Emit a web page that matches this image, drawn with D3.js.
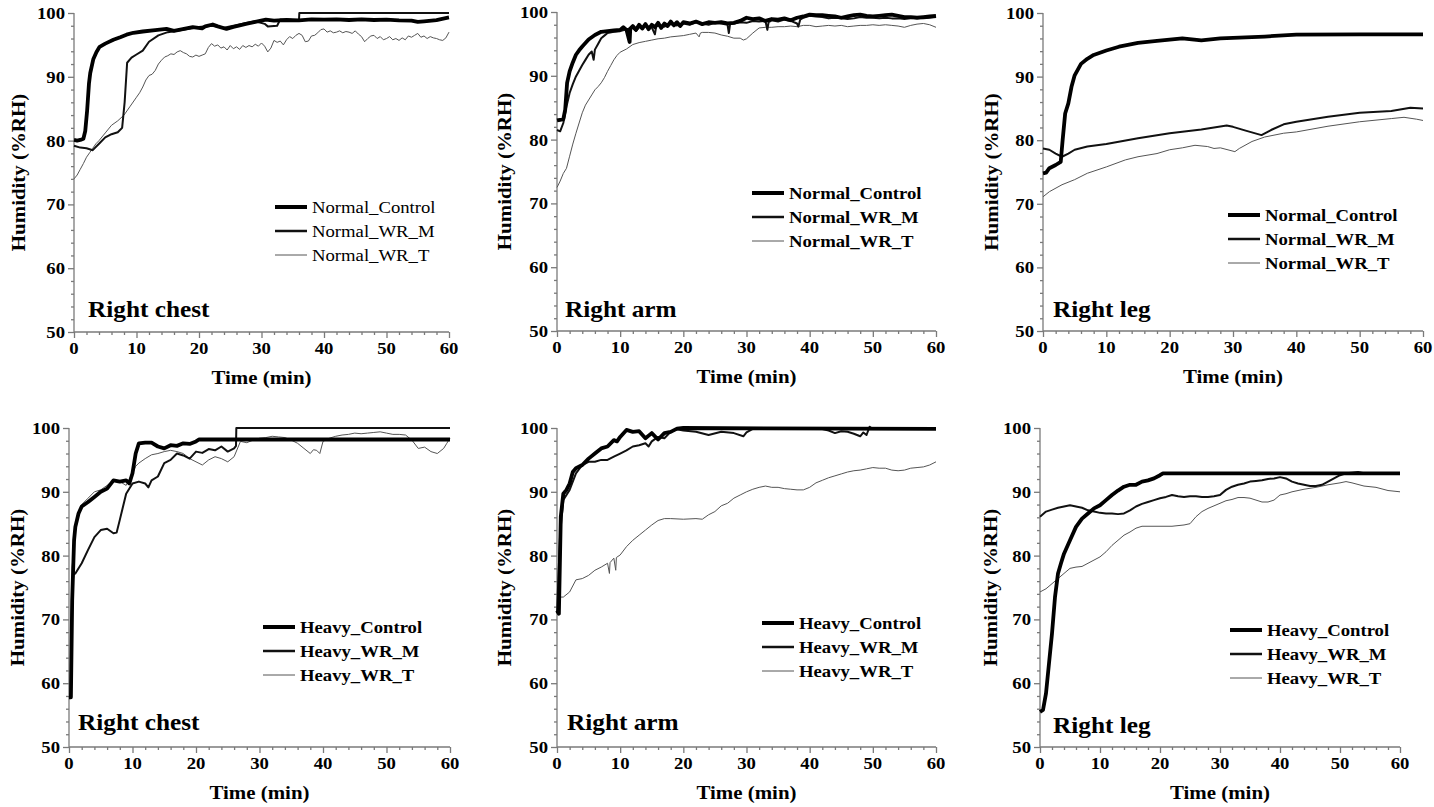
<!DOCTYPE html>
<html><head><meta charset="utf-8">
<script src="https://cdn.jsdelivr.net/npm/d3@7"></script>
<style>body{margin:0;background:#fff}svg{display:block}</style>
</head><body><svg width="1434" height="807"></svg>
<script>
const xTicks=[0,10,20,30,40,50,60];
const yTicks=[50,60,70,80,90,100];
const panelLabels=["Right chest","Right arm","Right leg","Right chest","Right arm","Right leg"];
const normalLegend=["Normal_Control","Normal_WR_M","Normal_WR_T"];
const heavyLegend=["Heavy_Control","Heavy_WR_M","Heavy_WR_T"];
const xTitle="Time (min)", yTitle="Humidity (%RH)";

// ---- Normal, Right chest ----
const normalChestControl=[[0,80.1],[0.5,80.0],[1,80.1],[1.5,80.3],[1.8,81.5],[2.1,84.7],[2.4,89],[2.6,90.6],[3.1,92.8],[3.6,93.9],[4.1,94.7],[5,95.2],[6.3,95.8],[7.4,96.2],[8.4,96.6],[9.5,96.9],[11,97.1],[13,97.3],[14.8,97.5],[16,97.2],[17,97.4],[19,97.8],[20.5,97.6],[21,97.9],[22.2,98.2],[23,97.9],[24.4,97.5],[25.5,97.8],[27.5,98.3],[29,98.6],[30.7,98.95],[32,98.8],[34,98.9],[36,98.85],[38,99.0],[40,98.95],[42,99.0],[44,98.9],[46,99.0],[48,98.9],[50,98.95],[52,98.85],[54,98.8],[55,98.6],[56,98.7],[58,98.9],[60,99.3]];
const normalChestWRM=[[0,79.2],[1,78.9],[2,78.8],[3,78.5],[4,79.5],[5,80.5],[6,81.0],[7,81.3],[7.7,82],[8.1,86],[8.5,92.2],[9.2,93.0],[10,93.5],[11,94.1],[12,95.5],[13.5,96.5],[15,97.0],[17,97.3],[20,97.8],[22,98.0],[24,97.7],[27,98.3],[29,98.7],[30.5,98.3],[31,97.9],[32.5,98.0],[33,99.0],[35,98.9],[36,98.9],[36.05,100],[60,100]];
const normalChestWRT=[[0,74],[0.5,74.6],[1,75.5],[1.5,76.4],[2,77.4],[2.5,78.1],[3,78.8],[3.5,79.5],[4,80],[5,81.2],[6,82.4],[7,83.1],[8,84],[9,85.4],[10,86.8],[10.5,87.5],[11,88.4],[11.5,89.5],[12,90.2],[12.5,90.4],[13,91],[13.5,92],[14,92.6],[14.5,93.1],[15,93.3],[15.5,93.6],[16,93.5],[16.5,93.9],[17,94.1],[17.5,93.8],[18,93.6],[18.5,93.2],[19,93.1],[19.5,93.4],[20,93.2],[20.5,93.4],[21,93.6],[21.5,94.6],[22,95.2],[22.5,94.8],[23,95.0],[23.5,94.5],[24,94.7],[24.5,94.2],[25,94.9],[25.5,94.4],[26,94.7],[26.5,94.3],[27,94.9],[27.5,94.6],[28,94.9],[28.5,94.7],[29,95.1],[29.5,94.8],[30,95.3],[30.5,94.8],[31,93.9],[31.5,94.5],[32,95.7],[32.5,95.4],[33,95.6],[33.5,95.0],[34,95.8],[34.5,96.3],[35,96.0],[35.5,96.5],[36,96.8],[36.5,96.5],[37,95.5],[37.5,95.6],[38,96.4],[38.5,96.5],[39,96.9],[39.5,97.4],[40,97.5],[40.5,97.0],[41,97.2],[41.5,96.9],[42,97.0],[42.5,97.2],[43,96.9],[43.5,97.1],[44,97.0],[44.5,96.8],[45,97.2],[45.5,96.7],[46,96.3],[46.5,95.5],[47,96.0],[47.5,96.4],[48,96.5],[48.5,96.0],[49,96.3],[49.5,95.8],[50,96.0],[50.5,96.3],[51,95.8],[51.5,96.0],[52,95.7],[52.5,96.1],[53,95.8],[53.5,96.4],[54,96.2],[54.5,96.5],[55,96.8],[55.5,96.2],[56,96.4],[56.5,96.0],[57,96.3],[57.5,96.1],[58,96.0],[58.5,95.8],[59,95.7],[59.5,96.1],[60,97]];

// ---- Normal, Right arm ----
const normalArmControl=[[0,83],[0.5,83.1],[1,83.2],[1.3,84.7],[1.6,88.9],[2,90.7],[2.5,92.1],[3,93.3],[3.5,94],[4,94.6],[5,95.7],[6,96.4],[7,96.9],[8,97.0],[9,97.1],[10,97.2],[10.5,97.6],[11,97.2],[11.5,95.3],[11.6,97.4],[12,97.8],[12.5,97.2],[13,98],[13.5,97.4],[14,98.1],[14.5,97.3],[15,98],[15.5,97.6],[16,98.3],[16.5,97.5],[17,98.2],[17.5,97.8],[18,98.5],[18.5,97.9],[19,98.4],[19.5,97.8],[20,98.4],[21,98.2],[22,98.5],[23,98.1],[24,98.4],[25,98.3],[26,98.4],[27,98.2],[28,98.3],[29,98.6],[30,99.1],[31,98.9],[32,99.0],[33,98.6],[34,98.9],[35,98.8],[36,99.0],[37,98.7],[38,99.1],[39,99.3],[40,99.6],[41,99.5],[42,99.5],[43,99.4],[44,99.3],[45,99.1],[46,99.3],[47,99.5],[48,99.6],[49,99.4],[50,99.3],[51,99.4],[52,99.5],[53,99.6],[54,99.4],[55,99.2],[56,99.2],[57,99.1],[58,99.2],[59,99.3],[60,99.4]];
const normalArmWRM=[[0,81.5],[0.5,81.3],[1,82.6],[1.5,85.2],[2,87.3],[2.5,88.7],[3,89.9],[3.5,90.8],[4,91.7],[4.5,92.5],[5,93.3],[5.5,93.8],[5.8,92.5],[6,94.1],[6.5,95],[7,95.9],[7.5,96.3],[8,96.7],[9,96.9],[10,97.0],[11,97.3],[12,97.5],[12.5,97.0],[13,97.6],[14,97.8],[15,97.6],[15.5,96.5],[15.7,97.7],[16,97.9],[17,97.7],[18,98.1],[19,97.9],[20,98.2],[21,98.0],[22,98.4],[23,98.2],[24,98.0],[25,98.3],[26,98.2],[27,98.0],[27.2,96.7],[27.4,98.1],[28,98.2],[29,98.4],[30,98.3],[31,98.6],[32,98.5],[33,98.6],[33.3,97.2],[33.5,98.4],[34,98.7],[35,98.5],[36,98.8],[37,98.6],[38,98.2],[38.2,97.7],[38.5,98.8],[39,99.1],[40,99.4],[41,99.3],[42,99.2],[43,99.0],[44,99.1],[45,99.0],[46,98.9],[47,99.0],[48,99.2],[49,99.1],[50,99.1],[51,99.0],[52,99.1],[53,99.0],[54,99.0],[55,98.9],[56,99.0],[57,99.1],[58,99.0],[59,99.1],[60,99.2]];
const normalArmWRT=[[0,72.5],[0.5,73.5],[1,74.7],[1.5,75.5],[2,77.4],[2.5,79.3],[3,81],[3.5,82.6],[4,84.2],[4.5,85.4],[5,86.2],[5.5,87],[6,87.8],[6.5,88.3],[7,88.9],[7.5,89.7],[8,90.7],[8.5,91.6],[9,92.5],[9.5,93.2],[10,93.7],[11,94.2],[12,94.9],[13,95.2],[14,95.4],[15,95.6],[16,95.8],[17,95.9],[18,96.1],[19,96.2],[20,96.3],[21,96.5],[22,96.7],[22.5,96.1],[22.7,96.7],[23,96.8],[24,96.8],[25,96.7],[26,96.4],[27,96.2],[28,95.9],[29,95.9],[29.5,95.6],[30,95.8],[31,96.7],[32,97.5],[33,97.6],[34,97.6],[35,97.7],[36,97.7],[37,97.8],[38,97.7],[39,97.9],[40,97.9],[41,97.7],[42,97.8],[43,97.9],[44,97.8],[45,97.9],[46,97.7],[47,97.8],[48,97.9],[49,97.9],[50,98.0],[51,97.9],[52,98.0],[53,97.9],[54,97.8],[55,97.6],[56,97.9],[57,98.1],[58,98.2],[59,98.0],[60,97.6]];

// ---- Normal, Right leg ----
const normalLegControl=[[0,74.8],[0.5,74.9],[1,75.6],[2,76.1],[2.8,76.6],[3.1,80],[3.5,84.2],[4,85.8],[4.5,88.4],[5,90.2],[6,92],[7,92.8],[8,93.4],[10,94.1],[12,94.7],[15,95.3],[18,95.6],[20,95.8],[22,96],[25,95.7],[28,96],[30,96.1],[35,96.3],[40,96.6],[50,96.65],[60,96.65]];
const normalLegWRM=[[0,78.7],[1,78.5],[2,77.9],[3,77.4],[4,77.9],[5,78.5],[7,79],[10,79.4],[15,80.3],[20,81.1],[25,81.7],[29,82.3],[30,82.1],[32,81.5],[34.5,80.8],[36,81.6],[38,82.5],[40,82.9],[45,83.7],[50,84.3],[55,84.6],[58,85.1],[60,85]];
const normalLegWRT=[[0,71.1],[1,71.9],[3,73],[5,73.8],[7,74.8],[10,75.8],[13,76.9],[15,77.4],[18,77.9],[20,78.5],[22,78.8],[24,79.2],[26,79],[27,78.7],[28,78.8],[30.3,78.2],[31,78.7],[33,79.8],[35,80.5],[38,81.1],[40,81.3],[45,82.2],[50,82.9],[55,83.4],[57,83.6],[59,83.3],[60,83.1]];

// ---- Heavy, Right chest ----
const heavyChestControl=[[0,57.8],[0.3,57.8],[0.5,73],[0.8,82.4],[1,84.5],[1.5,86.6],[2,87.7],[3,88.4],[4,89.2],[5,90],[6,90.5],[7,91.8],[8,91.6],[9,91.8],[9.5,91.3],[10,92.9],[10.5,96],[11,97.6],[12,97.7],[13,97.7],[14,97.1],[15,96.8],[16,97.3],[17,97.2],[18,97.6],[19,97.5],[20,97.9],[20.5,98.2],[60,98.2]];
const heavyChestWRM=[[0,57.8],[0.3,58],[0.5,75],[0.7,77],[1,77.2],[2,78.8],[3,80.9],[4,82.9],[5,84],[6,84.2],[7,83.5],[7.5,83.6],[8,85.6],[9,89.7],[10,91.3],[11,91.6],[12,91.3],[12.5,90.7],[13,91.8],[14,92.4],[15,94.5],[16,95],[17,96],[18,95.7],[19,95.2],[20,96.3],[21,96.1],[22,96.7],[23,96.5],[24,97.1],[25,96.3],[26,96.8],[26.3,97.2],[26.35,100],[60,100]];
const heavyChestWRT=[[0,57.8],[0.3,58.5],[0.5,78.2],[1,84.5],[2,88],[3,89],[4,90],[5,90.3],[6,91],[7,91.8],[8,91.6],[9,91],[10,92.9],[10.5,94],[11,94.5],[12,95.2],[13,95.8],[14,96],[15,96.3],[16,96.5],[17,96.3],[18,96],[19,95.2],[20,94.7],[21,94.2],[22,95],[23,95.5],[24,95.2],[25,94.7],[26,95.5],[27,97.9],[28,97.7],[29,98.1],[30,98.4],[31,98.5],[32,98.7],[33,98.6],[34,98.5],[35,98.1],[36,97.6],[37,96.8],[38,96],[38.5,96.6],[39,96.5],[39.5,96],[40,97.9],[41,98.4],[42,98.7],[43,98.9],[44,99],[45,99.2],[46,99.1],[47,99.2],[48,99.3],[49,99.4],[50,99.2],[51,99],[52,99],[53,98.9],[54,98.1],[55,96.8],[56,97],[57,96.3],[58,96],[59,96.8],[59.5,97.6],[60,98.4]];

// ---- Heavy, Right arm ----
const heavyArmControl=[[0,71.4],[0.3,70.9],[0.6,86.1],[1,89.7],[1.5,90.3],[2,91.3],[2.5,93.1],[3,93.7],[4,94.2],[5,95.2],[6,96],[7,96.8],[8,97.1],[9,98.1],[9.5,97.9],[10,98.6],[11,99.7],[12,99.4],[13,99.5],[14,98.4],[15,99.2],[16,98.2],[17,99.2],[18,99.4],[19,99.9],[20,100],[60,99.85]];
const heavyArmWRM=[[0,71],[0.5,83.5],[1,88.7],[2,90.3],[3,92.9],[4,94.2],[5,94.7],[6,94.7],[7,95],[8,95],[9,95.5],[10,96],[11,96.5],[12,97.1],[13,97.3],[14,97.6],[14.5,97.1],[15,97.9],[16,98.6],[17,98.4],[18,99.4],[19,99.8],[20,99.6],[22,99.4],[24,98.9],[26,99.4],[28,99.2],[29.5,98.7],[30,99.3],[31,99.85],[42,99.85],[43,99.6],[44,99.2],[45,99.5],[46,99.4],[47,99.1],[48,98.7],[48.5,99.3],[49,98.9],[49.5,100.2],[50,99.85],[60,99.85]];
const heavyArmWRT=[[0,71],[0.3,73],[0.5,73.5],[1,73.5],[2,74.3],[3,76.2],[4,76.4],[5,76.9],[6,77.7],[7,78.2],[8,78.8],[8.3,77.2],[8.4,78.9],[9,79.6],[9.3,77.7],[9.4,79.7],[10,80.1],[11,81.4],[12,82.4],[13,83.2],[14,84],[15,84.8],[16,85.5],[17,85.8],[18,85.8],[20,85.7],[22,85.8],[23,85.7],[24,86.4],[25,86.9],[26,87.8],[27,88.2],[28,89],[29,89.5],[30,90],[31,90.4],[32,90.7],[33,90.9],[34,90.7],[35,90.7],[36,90.5],[37,90.4],[38,90.3],[39,90.3],[40,90.7],[41,91.4],[42,91.8],[43,92.2],[44,92.5],[45,92.8],[46,93.1],[47,93.3],[48,93.4],[49,93.6],[50,93.8],[51,93.7],[52,93.7],[53,93.4],[54,93.3],[55,93.4],[56,93.7],[57,93.8],[58,93.9],[59,94.2],[60,94.7]];

// ---- Heavy, Right leg ----
const heavyLegControl=[[0,55.5],[0.5,55.8],[1,58.4],[1.5,63.1],[2,67.8],[2.5,73.5],[3,77.2],[3.5,78.8],[4,80.3],[5,82.4],[6,84.5],[7,85.8],[8,86.6],[9,87.4],[10,87.9],[11,88.7],[12,89.5],[13,90.2],[14,90.8],[15,91.1],[16,91.1],[17,91.6],[18,91.8],[19,92.1],[20,92.6],[20.5,92.9],[60,92.9]];
const heavyLegWRM=[[0,86.1],[1,86.9],[2,87.2],[3,87.5],[4,87.7],[5,87.9],[6,87.7],[7,87.5],[8,87.1],[9,86.9],[10,86.7],[11,86.6],[12,86.6],[13,86.5],[14,86.6],[15,87.1],[16,87.7],[17,88.1],[18,88.4],[19,88.7],[20,89],[21,89.2],[22,89.5],[23,89.3],[24,89.2],[25,89.3],[26,89.3],[27,89.2],[28,89.2],[29,89.3],[30,89.5],[31,90.3],[32,90.8],[33,91.1],[34,91.3],[35,91.6],[36,91.7],[37,91.8],[38,92],[39,92.1],[40,92.3],[41,92.1],[42,91.6],[43,91.3],[44,91.1],[45,90.9],[46,90.9],[47,91.1],[48,91.6],[49,92.1],[50,92.6],[51,92.9],[52,93],[53,93.1],[54,92.9],[55,92.8],[58,92.8],[60,92.8]];
const heavyLegWRT=[[0,74.3],[1,74.8],[2,75.6],[3,76.4],[4,77.2],[5,78],[6,78.2],[7,78.3],[8,78.8],[9,79.3],[10,79.8],[11,80.6],[12,81.6],[13,82.4],[14,83.2],[15,83.7],[16,84.3],[17,84.6],[18,84.6],[20,84.6],[22,84.6],[24,84.8],[25,85],[26,86.1],[27,86.9],[28,87.4],[29,87.8],[30,88.2],[31,88.6],[32,88.8],[33,89.1],[34,89.1],[35,89],[36,88.7],[37,88.4],[38,88.4],[39,88.7],[40,89.5],[41,89.7],[42,90],[44,90.4],[46,90.7],[48,91.1],[50,91.4],[51,91.6],[52,91.4],[54,90.9],[56,90.7],[58,90.2],[60,90]];

// ---- layout (positions only) ----
const panels=[
 {x0:74,x1:449,yt:13,yb:332,series:[normalChestControl,normalChestWRM,normalChestWRT],legend:normalLegend,legBold:false,legX:275,legY:207,titleX:18,labelX:88,labelY:317},
 {x0:557,x1:936,yt:12,yb:331,series:[normalArmControl,normalArmWRM,normalArmWRT],legend:normalLegend,legBold:true,legX:752,legY:193,titleX:504,labelX:565,labelY:317},
 {x0:1043,x1:1423,yt:13,yb:331,series:[normalLegControl,normalLegWRM,normalLegWRT],legend:normalLegend,legBold:true,legX:1228,legY:215,titleX:991,labelX:1053,labelY:317},
 {x0:69,x1:450,yt:428,yb:747,series:[heavyChestControl,heavyChestWRM,heavyChestWRT],legend:heavyLegend,legBold:true,legX:263,legY:627,titleX:17,labelX:78,labelY:730},
 {x0:557,x1:936,yt:428,yb:747,series:[heavyArmControl,heavyArmWRM,heavyArmWRT],legend:heavyLegend,legBold:true,legX:762,legY:623,titleX:504,labelX:567,labelY:730},
 {x0:1040,x1:1400,yt:428,yb:747,series:[heavyLegControl,heavyLegWRM,heavyLegWRT],legend:heavyLegend,legBold:true,legX:1230,legY:630,titleX:990,labelX:1053,labelY:733}
];
const styles=[{w:3.8,c:"#000"},{w:2,c:"#111"},{w:1,c:"#555"}];
const legW=[4,2.5,1];
const SX=1.1;
const FONT="'Liberation Serif', 'Times New Roman', Times, 'DejaVu Serif', serif";
const svg=d3.select("svg");
const axisColor="#7a7a7a";

function txt(g,x,y,s,size,opts={}){
  return g.append("text")
    .attr("transform",`translate(${x},${y})${opts.rot?" rotate(-90)":""} scale(${SX},1)`)
    .attr("font-family",FONT)
    .attr("font-size",size).attr("font-weight",opts.bold===false?"normal":"bold")
    .attr("text-anchor",opts.anchor||"start")
    .attr("fill","#000").text(s);
}

panels.forEach((p,i)=>{
  const g=svg.append("g");
  const x=d3.scaleLinear().domain([0,60]).range([p.x0,p.x1]);
  const y=d3.scaleLinear().domain([50,100]).range([p.yb,p.yt]);
  const minorX=d3.range(0,61,2).filter(v=>v%10!==0);
  const minorY=d3.range(50,101,2).filter(v=>v%10!==0);
  const ax=g.append("g").attr("transform",`translate(0,${p.yb})`)
    .call(d3.axisBottom(x).tickValues(xTicks).tickSize(6).tickFormat(""));
  const axm=g.append("g").attr("transform",`translate(0,${p.yb})`)
    .call(d3.axisBottom(x).tickValues(minorX).tickSize(3).tickFormat(""));
  const ay=g.append("g").attr("transform",`translate(${p.x0},0)`)
    .call(d3.axisLeft(y).tickValues(yTicks).tickSize(6).tickFormat(""));
  const aym=g.append("g").attr("transform",`translate(${p.x0},0)`)
    .call(d3.axisLeft(y).tickValues(minorY).tickSize(3).tickFormat(""));
  [ax,axm,ay,aym].forEach(a=>{a.selectAll("path,line").attr("stroke",axisColor).attr("stroke-width",1.3);});
  axm.select(".domain").remove(); aym.select(".domain").remove();
  ax.select(".domain").attr("d",`M${p.x0},0H${p.x1}`);
  ay.select(".domain").attr("d",`M0,${p.yb}V${p.yt}`);
  xTicks.forEach(v=>txt(g,x(v),p.yb+22,String(v),17,{anchor:"middle"}));
  yTicks.forEach(v=>txt(g,p.x0-9,y(v)+6,String(v),17,{anchor:"end"}));
  txt(g,(p.x0+p.x1)/2,p.yb+52,xTitle,19,{anchor:"middle"});
  txt(g,p.titleX+7,(p.yt+p.yb)/2,yTitle,19,{anchor:"middle",rot:true});
  txt(g,p.labelX,p.labelY,panelLabels[i],23);
  const line=d3.line().x(d=>x(d[0])).y(d=>y(d[1]));
  [2,1,0].forEach(k=>{
    g.append("path").datum(p.series[k]).attr("d",line).attr("fill","none")
      .attr("stroke",styles[k].c).attr("stroke-width",styles[k].w).attr("stroke-linejoin","round");
  });
  p.legend.forEach((s,k)=>{
    const yy=p.legY+k*24;
    g.append("line").attr("x1",p.legX).attr("x2",p.legX+32).attr("y1",yy).attr("y2",yy)
      .attr("stroke",styles[k].c).attr("stroke-width",legW[k]);
    txt(g,p.legX+37,yy+6,s,17,{bold:p.legBold});
  });
});
</script></body></html>
